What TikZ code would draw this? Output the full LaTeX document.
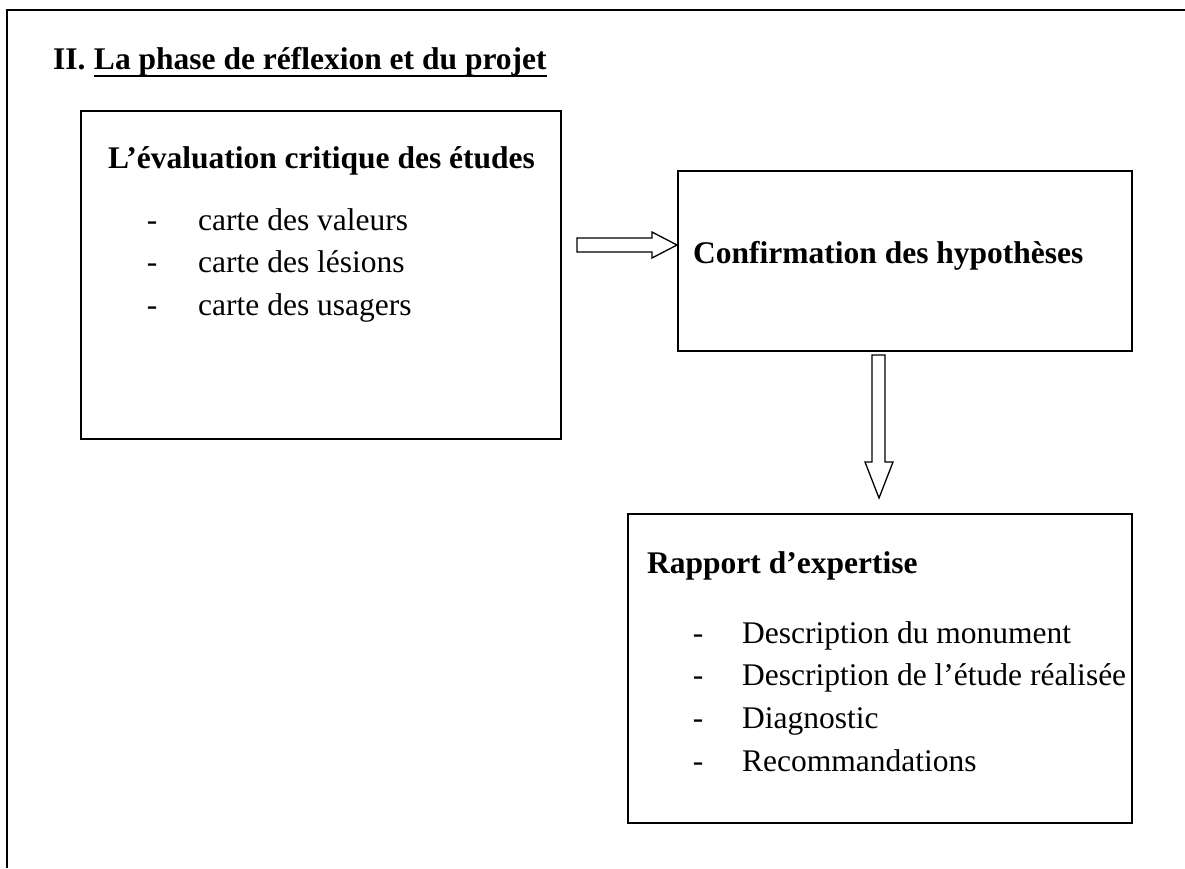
\documentclass[tikz,border=0pt]{standalone}
\usepackage{fontspec}
\setmainfont{Liberation Serif}
\begin{document}
\begin{tikzpicture}[x=1pt,y=-1pt,
  frame/.style={draw, line width=1.6pt},
  txt/.style={inner sep=0pt, anchor=base west, font=\fontsize{31.5}{37}\selectfont},
  bold/.style={txt, font=\fontsize{31.5}{37}\selectfont\bfseries},
  dashitem/.style={inner sep=0pt, anchor=base, font=\fontsize{31.5}{37}\selectfont},
  bigarrow/.style={draw, line width=1.3pt, fill=white, line join=miter}]
\useasboundingbox (0,0) rectangle (1185,868);
% outer frame (only top and left visible)
\draw[frame] (7,868) -- (7,10) -- (1185,10);
% title
\node[bold] (t1) at (53,69) {II.};
\node[bold, anchor=base west] (t2) at ([xshift=8pt]t1.base east) {La phase de réflexion et du projet};
\draw[line width=2.8pt] ([yshift=-7pt]t2.base west) -- ([yshift=-7pt]t2.base east);
% box 1
\node[frame, anchor=north west, minimum width=480pt, minimum height=328pt, inner sep=0pt] (b1) at (80,110) {};
\node[bold] (h1) at (108,168) {L’évaluation critique des études};
\node[dashitem] (d11) at (152,230) {-};
\node[txt] (i11) at (198,230) {carte des valeurs};
\node[dashitem] (d12) at (152,272.7) {-};
\node[txt] (i12) at (198,272.7) {carte des lésions};
\node[dashitem] (d13) at (152,315.4) {-};
\node[txt] (i13) at (198,315.4) {carte des usagers};
% box 2
\node[frame, anchor=north west, minimum width=454pt, minimum height=180pt, inner sep=0pt] (b2) at (677,170) {};
\node[bold] (h2) at (693,263) {Confirmation des hypothèses};
% box 3
\node[frame, anchor=north west, minimum width=504pt, minimum height=309pt, inner sep=0pt] (b3) at (627,513) {};
\node[bold] (h3) at (647,573) {Rapport d’expertise};
\node[dashitem] (d31) at (698,643) {-};
\node[txt] (i31) at (742,643) {Description du monument};
\node[dashitem] (d32) at (698,685.7) {-};
\node[txt] (i32) at (742,685.7) {Description de l’étude réalisée};
\node[dashitem] (d33) at (698,728.3) {-};
\node[txt] (i33) at (742,728.3) {Diagnostic};
\node[dashitem] (d34) at (698,771) {-};
\node[txt] (i34) at (742,771) {Recommandations};
% arrows
\coordinate (a1t) at (b2.west |- 0,245);
\draw[bigarrow] (577,238) -- (652,238) -- (652,232) -- (a1t) -- (652,258) -- (652,252) -- (577,252) -- cycle;
\coordinate (a2t) at (879,498);
\draw[bigarrow] (872,355) -- (872,462) -- (865,462) -- (a2t) -- (893,462) -- (885,462) -- (885,355) -- cycle;
\end{tikzpicture}
\end{document}
